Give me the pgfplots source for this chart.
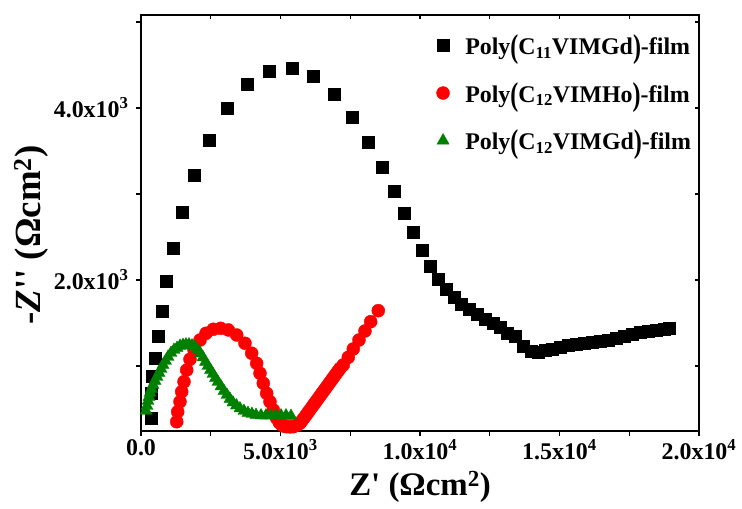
\documentclass[border=0pt]{standalone}
\usepackage{pgfplots}
\pgfplotsset{compat=1.18}
\usepackage{graphicx}
\usepackage{fontspec}
\setmainfont{Liberation Serif}

\definecolor{dkgreen}{RGB}{0,128,0}
\newcommand\bpar[1]{\raisebox{-0.14em}{\scalebox{1}[1.38]{#1}}}
\newcommand\ttick[2]{\textbf{#1x10\textsuperscript{#2}}}

\begin{document}
\begin{tikzpicture}
\begin{axis}[
    scale only axis,
    width=558bp, height=416bp,
    xmin=0, xmax=20000,
    ymin=244, ymax=5081,
    clip=false,
    scaled ticks=false,
    xtick={0,5000,10000,15000,20000},
    xticklabels={\textbf{0.0},\ttick{5.0}{3},\ttick{1.0}{4},\ttick{1.5}{4},\ttick{2.0}{4}},
    minor xtick={2500,7500,12500,17500},
    ytick={2000,4000},
    yticklabels={\ttick{2.0}{3},\ttick{4.0}{3}},
    minor ytick={1000,3000,5000},
    xtick pos=left, ytick pos=left,
    tick align=outside,
    major tick length=5bp, minor tick length=5bp,
    axis line style={line width=1.2bp},
    every tick/.style={black, line width=1.2bp},
    tick label style={font=\fontsize{24}{26}\selectfont\bfseries},
    yticklabel style={xshift=-4bp},
    label style={font=\fontsize{33}{35}\selectfont\bfseries},
    xlabel={Z\textquotesingle\ (Ωcm\textsuperscript{2})},
    ylabel={-\textit{Z}\textquotesingle\textquotesingle\ (Ωcm\textsuperscript{2})},
    xlabel style={yshift=-4bp},
    ylabel style={yshift=-1bp, xshift=-12bp, font=\fontsize{37}{39}\selectfont\bfseries},
    legend cell align=left,
    legend image code/.code={
        \draw[#1] plot coordinates {(0bp,0bp)};
        \path (-7bp,0bp) (20bp,0bp);
    },
    legend style={at={(rel axis cs:0.995,0.962)}, anchor=north east,
        draw=none, fill=none, row sep=22.5bp,
        font=\fontsize{24}{26}\selectfont\bfseries},
]
\addplot[only marks, mark=square*, mark size=6bp, black] coordinates {
(358,395)(383,682)(419,876)(502,1090)(620,1341)(742,1640)(921,1988)(1158,2369)
(1480,2787)(1910,3213)(2437,3631)(3082,3992)(3799,4271)(4598,4431)(5412,4466)
(6189,4373)(6928,4163)(7573,3892)(8136,3601)(8637,3306)(9068,3032)(9437,2779)
(9774,2555)(10082,2349)(10369,2155)(10645,2008)(10956,1892)(11218,1799)
(11494,1721)(11766,1660)(12053,1605)(12354,1547)(12626,1497)(12867,1446)
(13135,1384)(13404,1341)(13702,1233)(13978,1174)(14229,1163)(14480,1180)
(14730,1198)(15017,1224)(15304,1238)(15590,1252)(15877,1267)(16164,1281)
(16451,1287)(16737,1300)(17024,1320)(17311,1343)(17597,1366)(17884,1387)
(18171,1407)(18458,1418)(18744,1430)(18923,1438)
};
\addlegendentry{Poly\bpar{(}C\textsubscript{11}VIMGd\bpar{)}-film}
\addplot[only marks, mark=*, mark size=6.5bp, red] coordinates {
(1280,352)(1315,468)(1398,585)(1459,701)(1541,817)(1638,953)(1756,1078)
(1900,1186)(2115,1302)(2330,1380)(2591,1427)(2856,1438)(3129,1419)(3430,1360)
(3727,1264)(3967,1148)(4147,1031)(4265,915)(4383,799)(4505,682)(4623,585)
(4742,488)(4863,392)(4960,340)(5043,314)(5130,300)(5222,294)(5340,292)
(5459,294)(5580,310)(5699,334)(5770,365)(5842,395)(5914,427)(5985,459)
(6057,491)(6129,523)(6200,555)(6272,587)(6344,619)(6415,651)(6487,683)
(6559,715)(6630,747)(6702,779)(6774,811)(6845,843)(6917,875)(6989,907)
(7060,939)(7132,971)(7250,1012)(7430,1101)(7609,1198)(7813,1302)(8028,1407)
(8232,1515)(8505,1643)
};
\addlegendentry{Poly\bpar{(}C\textsubscript{12}VIMHo\bpar{)}-film}
\addplot[only marks, mark=triangle*, mark size=7bp, dkgreen] coordinates {
(179,477)(215,535)(251,593)(287,639)(323,686)(376,732)(430,779)(502,826)
(573,872)(645,919)(717,965)(788,1012)(878,1058)(968,1105)(1075,1151)
(1183,1186)(1290,1209)(1398,1233)(1505,1244)(1613,1250)(1720,1250)(1828,1238)
(1935,1221)(2043,1186)(2132,1145)(2222,1099)(2312,1046)(2401,1000)(2491,953)
(2580,907)(2670,860)(2760,814)(2867,762)(2975,709)(3082,663)(3190,616)
(3297,575)(3423,540)(3548,506)(3692,477)(3835,453)(3978,442)(4122,430)
(4301,424)(4480,424)(4659,424)(4838,424)(5018,424)(5197,424)(5376,418)
};
\addlegendentry{Poly\bpar{(}C\textsubscript{12}VIMGd\bpar{)}-film}
\end{axis}
\begin{axis}[
    scale only axis,
    width=558bp, height=416bp,
    xmin=0, xmax=20000,
    ymin=244, ymax=5081,
    scaled ticks=false,
    axis line style={draw=none},
    xtick={0,5000,10000,15000,20000}, minor xtick={2500,7500,12500,17500},
    ytick={2000,4000}, minor ytick={1000,3000,5000},
    xticklabels={}, yticklabels={},
    xtick pos=right, ytick pos=right,
    tick align=inside,
    major tick length=4bp, minor tick length=4bp,
    every tick/.style={black, line width=1.2bp},
]
\end{axis}
\pgfresetboundingbox
\path ([xshift=-141bp,yshift=-78bp]current axis.south west) rectangle ([xshift=43bp,yshift=15bp]current axis.north east);
\end{tikzpicture}
\end{document}
